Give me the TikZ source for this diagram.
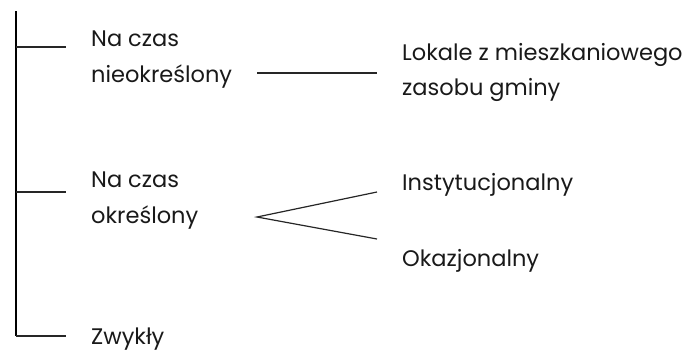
\documentclass[tikz,border=0pt]{standalone}
\usepackage{fontspec}
\setmainfont{Poppins}
\begin{document}
\begin{tikzpicture}[x=1pt,y=-1pt]
\useasboundingbox (0,0) rectangle (690,349);
\tikzset{
  lbl/.style={anchor=base west, inner sep=0pt, font=\fontsize{22.5}{30}\selectfont, text=black!90},
  conn/.style={line width=1.2pt, draw=black!85},
  spine/.style={line width=1.6pt, draw=black}
}
\node[lbl] (nc1) at (91,46) {Na czas};
\node[lbl] (nieokr) at (91,82) {nieokreślony};
\node[lbl] (nc2) at (91,187) {Na czas};
\node[lbl] (okr) at (91,223) {określony};
\node[lbl] (zw) at (91,344) {Zwykły};
\node[lbl] (lok1) at (402,60) {Lokale z mieszkaniowego};
\node[lbl] (lok2) at (402,95) {zasobu gminy};
\node[lbl] (inst) at (402,190) {Instytucjonalny};
\node[lbl] (okaz) at (402,266) {Okazjonalny};
% spine
\coordinate (top) at (16,11);
\coordinate (corner) at (16,336);
\coordinate (t1a) at (16,47);
\coordinate (t1b) at (66,47);
\coordinate (t2a) at (16,192);
\coordinate (t2b) at (66,192);
\coordinate (t3b) at (66,336);
\draw[spine] (top) -- (corner);
\draw[conn] (corner) -- (t3b);
\draw[conn] (t1a) -- (t1b);
\draw[conn] (t2a) -- (t2b);
% connector to Lokale
\coordinate (l1a) at (257,73);
\coordinate (l1b) at (377,73);
\draw[conn] (l1a) -- (l1b);
% fork
\coordinate (apex) at (257,217);
\coordinate (fu) at (377,192);
\coordinate (fd) at (377,239);
\draw[conn] (fu) -- (apex) -- (fd);
\end{tikzpicture}
\end{document}
